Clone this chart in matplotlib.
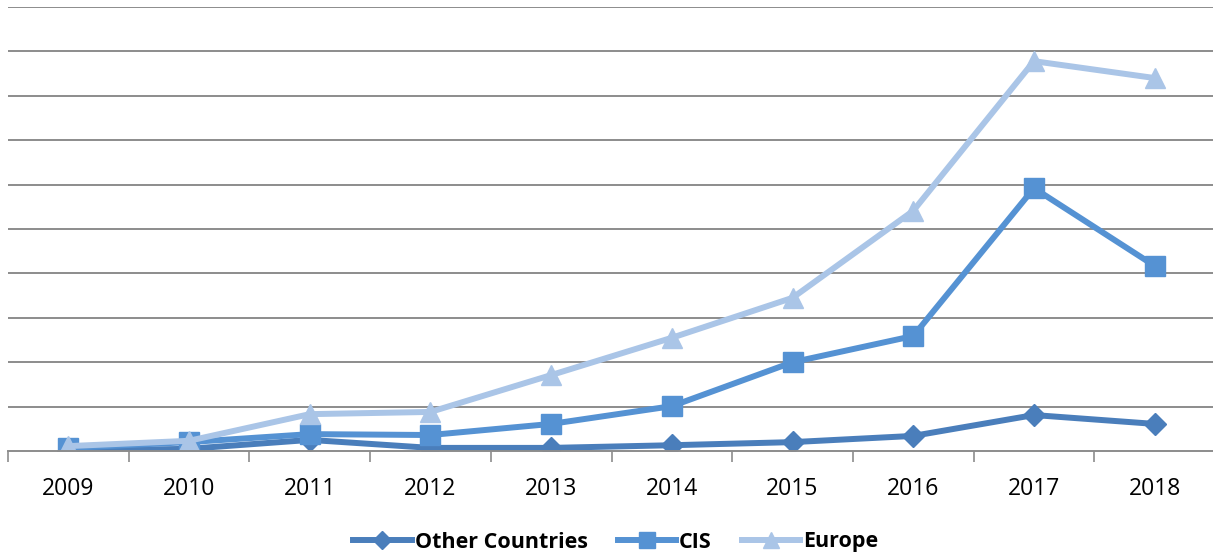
import matplotlib.pyplot as plt
import numpy as np

years = ['2009', '2010', '2011', '2012', '2013', '2014', '2015', '2016', '2017', '2018']
other = [0.0, 0.05, 0.25, 0.07, 0.07, 0.13, 0.2, 0.34, 0.81, 0.61]
cis = [0.07, 0.2, 0.38, 0.36, 0.61, 1.01, 2.0, 2.59, 5.92, 4.17]
europe = [0.11, 0.23, 0.83, 0.88, 1.71, 2.55, 3.45, 5.41, 8.78, 8.4]

plt.rcParams['font.family'] = ['Open Sans', 'DejaVu Sans']

fig = plt.figure(figsize=(12.13, 5.56), dpi=100)
ax = fig.add_axes([8/1213, 1 - 451/556, 1207/1213, 444/556])

x = np.arange(len(years))
ax.plot(x, other, color='#4A7EBB', lw=4.3, marker='D', ms=11, label='Other Countries')
ax.plot(x, cis, color='#5592D3', lw=4.3, marker='s', ms=14, label='CIS')
ax.plot(x, europe, color='#AAC5E7', lw=4.3, marker='^', ms=15, label='Europe')

ax.set_xlim(-0.5, 9.5)
ax.set_ylim(0, 10)
ax.set_yticks(np.arange(1, 11))
ax.yaxis.grid(True, color='#8C8C8C', lw=1.4)
ax.set_axisbelow(True)
ax.tick_params(axis='y', left=False, labelleft=False)

ax.set_xticks(x)
ax.set_xticklabels(years, fontsize=16.5)
ax.tick_params(axis='x', which='major', length=0, pad=19)
ax.set_xticks(np.arange(-0.5, 10, 1), minor=True)
ax.tick_params(axis='x', which='minor', length=8, width=1.2, color='#8C8C8C')

for s in ['top', 'right', 'left']:
    ax.spines[s].set_visible(False)
ax.spines['bottom'].set_color('#8C8C8C')
ax.spines['bottom'].set_linewidth(1.4)

leg = fig.legend(loc='center', bbox_to_anchor=(616/1213, 1 - 542/556), ncol=3,
                 frameon=False, prop={'size': 15.5, 'weight': 'bold'},
                 handlelength=2.7, handletextpad=0.15, columnspacing=1.4, markerscale=0.8)

fig.savefig('out.png', dpi=100)
